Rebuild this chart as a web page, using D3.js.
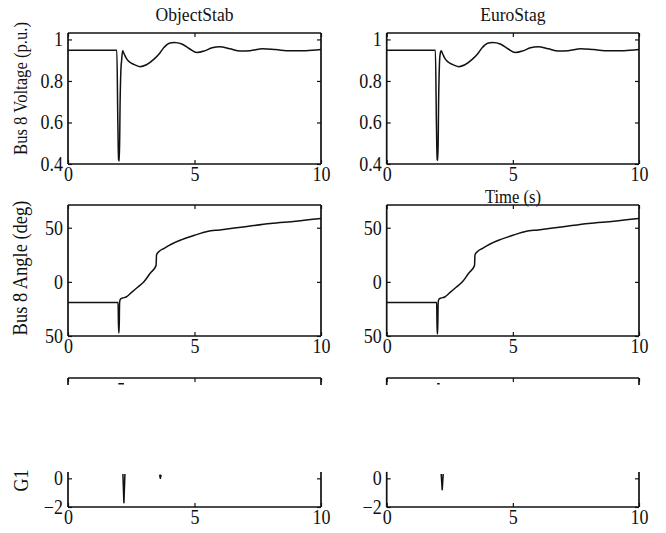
<!DOCTYPE html>
<html>
<head>
<meta charset="utf-8">
<script src="https://cdn.jsdelivr.net/npm/d3@7"></script>
<style>
  html, body { margin: 0; padding: 0; background: #fff; }
  svg text { font-family: "Liberation Serif", "Times New Roman", serif; fill: #111; }
</style>
</head>
<body>
<svg id="chart" width="666" height="533"></svg>
<script>
// ---------------- DATA ----------------
const panelTitles = ["ObjectStab", "EuroStag"];
const xTicks = [0, 5, 10];
const xTickLabels = ["0", "5", "10"];

// Bus 8 voltage (p.u.)
const tVolt    = [0, 1.93, 1.97, 2.0, 2.03, 2.06, 2.09, 2.12, 2.16, 2.22, 2.3, 2.45, 2.6, 2.85, 3.1, 3.4, 3.6, 3.8, 4.0, 4.2, 4.5, 4.8, 5.1, 5.4, 5.7, 6.0, 6.4, 6.8, 7.2, 7.7, 8.2, 8.8, 9.4, 10];
const voltObj  = [0.948, 0.948, 0.60, 0.42, 0.415, 0.70, 0.85, 0.90, 0.945, 0.93, 0.91, 0.89, 0.88, 0.869, 0.878, 0.905, 0.93, 0.962, 0.982, 0.985, 0.978, 0.955, 0.937, 0.945, 0.96, 0.965, 0.955, 0.944, 0.946, 0.955, 0.951, 0.945, 0.946, 0.951];
const voltEuro = [0.948, 0.948, 0.60, 0.42, 0.418, 0.72, 0.88, 0.93, 0.945, 0.93, 0.91, 0.89, 0.88, 0.869, 0.878, 0.905, 0.93, 0.962, 0.982, 0.985, 0.978, 0.955, 0.937, 0.945, 0.96, 0.965, 0.955, 0.944, 0.946, 0.955, 0.951, 0.945, 0.946, 0.951];
const voltTicks = [0.4, 0.6, 0.8, 1];
const voltTickLabels = ["0.4", "0.6", "0.8", "1"];

// Bus 8 angle (deg)
const tAng     = [0, 1.98, 2.0, 2.02, 2.04, 2.07, 2.15, 2.3, 2.5, 2.75, 3.0, 3.25, 3.48, 3.5, 3.6, 3.8, 4.1, 4.5, 5.0, 5.5, 6.0, 7.0, 8.0, 9.0, 10];
const angObj   = [-19, -19, -47, -47, -19, -16, -15, -14, -10, -5, 0, 8, 15, 25, 28, 31, 35, 39, 43, 46.5, 48, 51, 54, 56, 58.5];
const angEuro  = [-19, -19, -48, -48, -19, -16, -15, -14, -10, -5, 0, 8, 15, 25, 28, 31, 35, 39, 43, 46.5, 48, 51, 54, 56, 58.5];
const angTicks = [-50, 0, 50];
const angTickLabels = ["50", "0", "50"];

// G1 (only visible fragments; null separates fragments)
const tG1Obj  = [1.99, 2.21, null, 2.17, 2.21, 2.25, null, 3.62, 3.65, 3.68];
const g1Obj   = [6.6, 6.6, null, 0.3, -1.7, 0.3, null, 0.25, 0.0, 0.25];
const tG1Euro = [2.0, 2.1, null, 2.16, 2.2, 2.24];
const g1Euro  = [6.6, 6.6, null, 0.3, -0.8, 0.3];
const g1Ticks = [-2, 0];
const g1TickLabels = ["\u22122", "0"];

// ---------------- LAYOUT ----------------
const svg = d3.select("#chart");
const cols = [{x0: 68, x1: 321}, {x0: 386.7, x1: 639}];
const rows = [
  {y0: 33, y1: 164, dom: [0.4, 1.031], ticks: voltTicks, labels: voltTickLabels, smooth: true},
  {y0: 205, y1: 336, dom: [-50, 71], ticks: angTicks, labels: angTickLabels, smooth: true},
  {y0: 378, y1: 507, dom: [-2, 7], ticks: g1Ticks, labels: g1TickLabels, smooth: false}
];
const series = [
  [{t: tVolt, v: voltObj}, {t: tAng, v: angObj}, {t: tG1Obj, v: g1Obj}],
  [{t: tVolt, v: voltEuro}, {t: tAng, v: angEuro}, {t: tG1Euro, v: g1Euro}]
];
const FS = 20;      // tick label size
const SX = 0.9;     // horizontal squeeze of the scanned lettering
const TICK = 4;

cols.forEach((c, ci) => {
  rows.forEach((r, ri) => {
    const x = d3.scaleLinear().domain([0, 10]).range([c.x0, c.x1]);
    const y = d3.scaleLinear().domain(r.dom).range([r.y1, r.y0]);
    const g = svg.append("g");

    // curve
    const s = series[ci][ri];
    const pts = s.t.map((t, i) => ({t, v: s.v[i]}));
    const line = d3.line().defined(d => d.t != null && d.v != null)
      .x(d => x(d.t)).y(d => y(d.v))
      .curve(r.smooth ? d3.curveMonotoneX : d3.curveLinear);
    g.append("path").datum(pts).attr("d", line)
      .attr("fill", "none").attr("stroke", "#111").attr("stroke-width", 1.5)
      .attr("stroke-linejoin", "round");

    // axes (inward ticks, all four sides)
    const bottom = d3.axisBottom(x).tickValues(xTicks).tickSize(-TICK).tickFormat((d, i) => xTickLabels[i]);
    const top = d3.axisTop(x).tickValues(xTicks).tickSize(-TICK).tickFormat("");
    const left = d3.axisLeft(y).tickValues(r.ticks).tickSize(-TICK).tickFormat((d, i) => r.labels[i]);
    const right = d3.axisRight(y).tickValues(r.ticks).tickSize(-TICK).tickFormat("");

    const gb = g.append("g").attr("transform", `translate(0,${r.y1})`).call(bottom);
    const gt = g.append("g").attr("transform", `translate(0,${r.y0})`).call(top);
    const gl = g.append("g").attr("transform", `translate(${c.x0},0)`).call(left);
    const gr = g.append("g").attr("transform", `translate(${c.x1},0)`).call(right);
    [gb, gt, gl, gr].forEach(a => {
      a.select(".domain").remove();
      a.selectAll(".tick line").attr("stroke", "#111").attr("stroke-width", 1.2);
      a.selectAll("text").attr("font-size", FS).attr("fill", "#111")
        .style("font-family", "'Liberation Serif', serif");
    });
    gb.selectAll("text").attr("y", null).attr("dy", "0.71em")
      .attr("transform", `translate(0,3) scale(${SX},1)`);
    gl.selectAll("text").attr("x", null)
      .attr("transform", `translate(-5,0) scale(${SX},1)`);

    // frame
    const fr = g.append("g").attr("stroke", "#111").attr("stroke-width", 1.7).attr("fill", "none");
    fr.append("line").attr("x1", c.x0).attr("x2", c.x1).attr("y1", r.y0).attr("y2", r.y0);
    fr.append("line").attr("x1", c.x0).attr("x2", c.x1).attr("y1", r.y1).attr("y2", r.y1);
    if (ri < 2) {
      fr.append("line").attr("x1", c.x0).attr("x2", c.x0).attr("y1", r.y0).attr("y2", r.y1);
      fr.append("line").attr("x1", c.x1).attr("x2", c.x1).attr("y1", r.y0).attr("y2", r.y1);
    } else {
      // faded scan: only the ends of the side lines remain
      [c.x0, c.x1].forEach(xx => {
        fr.append("line").attr("x1", xx).attr("x2", xx).attr("y1", r.y0).attr("y2", r.y0 + 7);
        fr.append("line").attr("x1", xx).attr("x2", xx).attr("y1", y(0.45)).attr("y2", r.y1);
      });
    }
  });
  // titles
  svg.append("text").attr("transform", `translate(${(c.x0 + c.x1) / 2},21) scale(${SX},1)`)
    .attr("text-anchor", "middle").attr("font-size", 19.5).text(panelTitles[ci]);
});

// axis labels
svg.append("text").attr("transform", `translate(27,88.5) rotate(-90) scale(${SX},1)`)
  .attr("text-anchor", "middle").attr("font-size", 18.5).text("Bus 8 Voltage (p.u.)");
svg.append("text").attr("transform", `translate(27,268) rotate(-90) scale(${SX},1)`)
  .attr("text-anchor", "middle").attr("font-size", 20.5).text("Bus 8 Angle (deg)");
svg.append("text").attr("transform", `translate(28,480.5) rotate(-90) scale(${SX},1)`)
  .attr("text-anchor", "middle").attr("font-size", 20).text("G1");
svg.append("text").attr("transform", `translate(513,203) scale(${SX},1)`)
  .attr("text-anchor", "middle").attr("font-size", 18.5).text("Time (s)");
</script>
</body>
</html>
